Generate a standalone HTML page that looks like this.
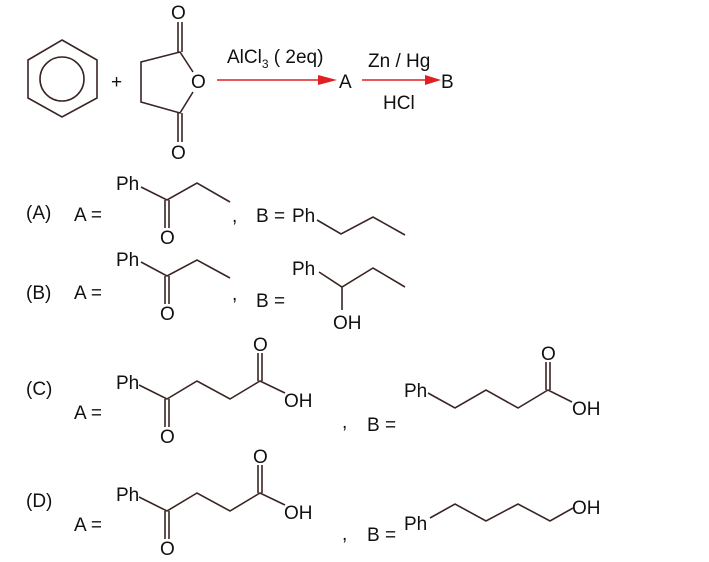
<!DOCTYPE html>
<html><head><meta charset="utf-8"><style>
html,body{margin:0;padding:0;background:#fff;}
svg{display:block;}
text{font-family:"Liberation Sans",Arial,sans-serif;fill:#111;font-size:19px;}
</style></head><body>
<svg width="709" height="562" viewBox="0 0 709 562" xmlns="http://www.w3.org/2000/svg">
<g stroke="#3a2424" stroke-width="1.6" fill="none">
<polygon points="62,40 97,60 97,98 62,117 28,98 28,60"/>
<circle cx="62" cy="79" r="22"/>
<polyline points="193,72 180,52 141,62 141,102 180,113 193,92"/>
<line x1="178" y1="52" x2="178" y2="22"/><line x1="182" y1="52" x2="182" y2="22"/>
<line x1="178" y1="113" x2="178" y2="142"/><line x1="182" y1="113" x2="182" y2="142"/>
<polyline points="141,187 167,200 197,183 230,202"/>
<line x1="165" y1="200" x2="165" y2="228"/><line x1="169" y1="200" x2="169" y2="228"/>
<polyline points="317,220 341,234 373,217 405,235"/>
<polyline points="141,262 167,276 197,260 230,278"/>
<line x1="165" y1="276" x2="165" y2="304"/><line x1="169" y1="276" x2="169" y2="304"/>
<polyline points="319,272 342,287 373,268 405,287"/>
<line x1="342" y1="287" x2="342" y2="310"/>
<polyline points="139,385 167,399 197,381 230,399 260,381 285,393"/>
<line x1="165" y1="399" x2="165" y2="427"/><line x1="169" y1="399" x2="169" y2="427"/>
<line x1="258" y1="381" x2="258" y2="353"/><line x1="262" y1="381" x2="262" y2="353"/>
<polyline points="428,393 455,408 486,390 518,408 548,390 572,402"/>
<line x1="546" y1="390" x2="546" y2="362"/><line x1="550" y1="390" x2="550" y2="362"/>
<polyline points="139,497 167,511 197,493 230,511 260,493 285,505"/>
<line x1="165" y1="511" x2="165" y2="539"/><line x1="169" y1="511" x2="169" y2="539"/>
<line x1="258" y1="493" x2="258" y2="465"/><line x1="262" y1="493" x2="262" y2="465"/>
<polyline points="430,518 455,504 486,521 518,504 550,521 573,508"/>
</g>
<g stroke="#e02020" stroke-width="1.6" fill="#e02020">
<line x1="217" y1="80" x2="322" y2="80"/>
<polygon points="318,75 337,80 318,85" stroke="none"/>
<line x1="362" y1="80" x2="430" y2="80"/>
<polygon points="425,75 441,80 425,85" stroke="none"/>
</g>
<text x="111" y="88">+</text>
<text x="171" y="19">O</text>
<text x="191" y="88">O</text>
<text x="171" y="159">O</text>
<text x="227" y="63">AlCl<tspan font-size="12" dy="5">3</tspan><tspan dy="-5"> ( 2eq)</tspan></text>
<text x="339" y="88">A</text>
<text x="368" y="67">Zn / Hg</text>
<text x="441" y="88">B</text>
<text x="383" y="109">HCl</text>

<text x="26" y="219">(A)</text>
<text x="74" y="221">A =</text>
<text x="116" y="190">Ph</text>
<text x="160" y="244">O</text>
<text x="232" y="222">,</text>
<text x="256" y="222">B =</text>
<text x="292" y="222">Ph</text>

<text x="26" y="299">(B)</text>
<text x="74" y="299">A =</text>
<text x="116" y="266">Ph</text>
<text x="160" y="320">O</text>
<text x="232" y="300">,</text>
<text x="256" y="307">B =</text>
<text x="292" y="275">Ph</text>
<text x="333" y="329">OH</text>

<text x="26" y="395">(C)</text>
<text x="74" y="419">A =</text>
<text x="116" y="389">Ph</text>
<text x="160" y="443">O</text>
<text x="253" y="351">O</text>
<text x="284" y="407">OH</text>
<text x="342" y="428">,</text>
<text x="367" y="431">B =</text>
<text x="404" y="397">Ph</text>
<text x="541" y="360">O</text>
<text x="572" y="415">OH</text>

<text x="26" y="507">(D)</text>
<text x="74" y="531">A =</text>
<text x="116" y="501">Ph</text>
<text x="160" y="555">O</text>
<text x="253" y="463">O</text>
<text x="284" y="519">OH</text>
<text x="342" y="540">,</text>
<text x="367" y="541">B =</text>
<text x="404" y="530">Ph</text>
<text x="572" y="514">OH</text>
</svg>
</body></html>
